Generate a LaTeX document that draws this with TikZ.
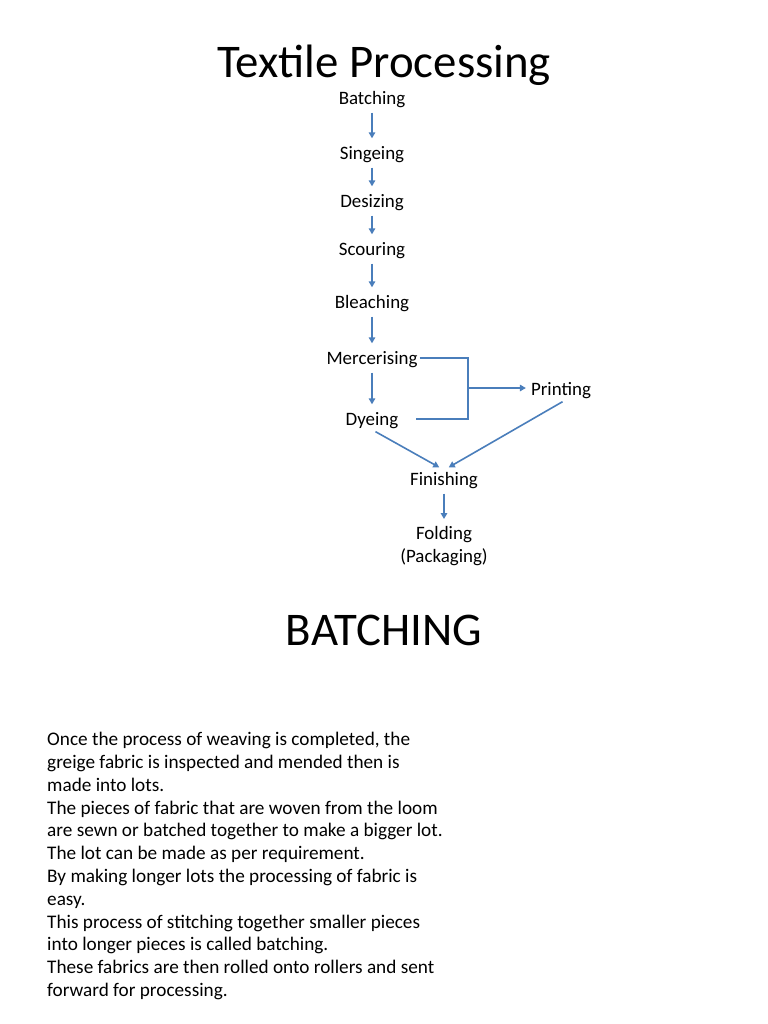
\documentclass[tikz,border=0pt]{standalone}
\usepackage{fontspec}
\setmainfont{Carlito}
\usetikzlibrary{arrows.meta}
\definecolor{conn}{RGB}{74,126,187}
\begin{document}
\begin{tikzpicture}[x=1bp,y=-1bp,
  lbl/.style={inner xsep=2bp,inner ysep=2bp,text height=15bp,text depth=2bp,font=\fontsize{19}{23}\selectfont},
  line/.style={draw=conn,line width=1.6bp},
  arr/.style={line,-{Triangle[length=6bp,width=6.5bp]}},
  varr/.style={arr,shorten <=4bp,shorten >=4bp}]
\useasboundingbox[fill=white] (0,0) rectangle (768,1024);
\node[font=\fontsize{47}{56}\selectfont,anchor=base,inner sep=0pt] (title) at (384,77) {Textile Processing};
\node[lbl] (batch) at (372,98) {Batching};
\node[lbl] (sing) at (372,153) {Singeing};
\node[lbl] (desz) at (372,201) {Desizing};
\node[lbl] (scour) at (372,249) {Scouring};
\node[lbl] (bleach) at (372,302) {Bleaching};
\node[lbl] (merc) at (372,358) {Mercerising};
\node[lbl] (dye) at (372,419) {Dyeing};
\node[lbl,inner xsep=5bp] (print) at (561,389) {Printing};
\node[lbl] (fin) at (444,479) {Finishing};
\node[align=center,inner sep=0pt,anchor=north,font=\fontsize{19}{23}\selectfont] (fold) at (444,526) {Folding\\(Packaging)};
\draw[varr] (batch) -- (sing);
\draw[varr] (sing) -- (desz);
\draw[varr] (desz) -- (scour);
\draw[varr] (scour) -- (bleach);
\draw[varr] (bleach) -- (merc);
\draw[varr] (merc) -- (dye);
\coordinate (j) at (468,388);
\draw[line] (merc.east) -| (j) |- ([xshift=15bp]dye.east);
\draw[arr] (j) -- (j -| print.west);
\draw[arr,shorten <=4bp,shorten >=2bp] (dye.south) -- ([xshift=-3bp]fin.north);
\draw[arr,shorten <=4bp,shorten >=2bp] ([xshift=5bp]print.south) -- ([xshift=3bp]fin.north);
\draw[arr,shorten <=4bp] (fin.south) -- ([yshift=7bp]fold.north);
\node[font=\fontsize{47}{56}\selectfont,anchor=base] (head) at (384,645) {BATCHING};
\node[anchor=north west,inner sep=0pt,align=left,font=\fontsize{19.3}{22.9}\selectfont] (body) at (47,732) {Once the process of weaving is completed, the\\
greige fabric is inspected and mended then is\\
made into lots.\\
The pieces of fabric that are woven from the loom\\
are sewn or batched together to make a bigger lot.\\
The lot can be made as per requirement.\\
By making longer lots the processing of fabric is\\
easy.\\
This process of stitching together smaller pieces\\
into longer pieces is called batching.\\
These fabrics are then rolled onto rollers and sent\\
forward for processing.};
\end{tikzpicture}
\end{document}
